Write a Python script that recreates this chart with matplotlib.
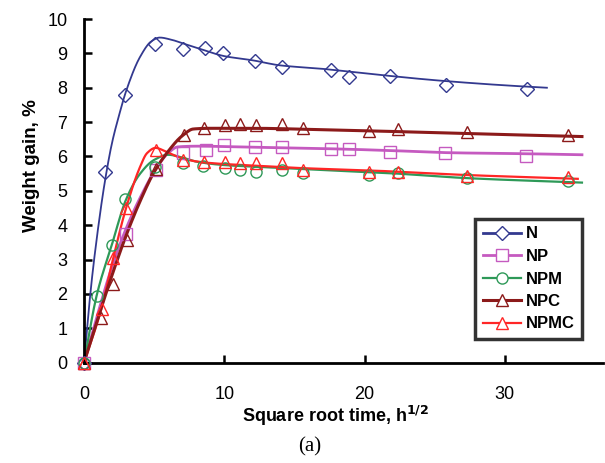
import numpy as np
import matplotlib
matplotlib.use("Agg")
import matplotlib.pyplot as plt
from matplotlib.lines import Line2D

# ---- measured points ----
N_x = [0, 1.5, 2.9, 5.05, 7.05, 8.65, 9.9, 12.2, 14.15, 17.6, 18.9, 21.85, 25.8, 31.55]
N_y = [0, 5.55, 7.78, 9.28, 9.12, 9.15, 9.02, 8.79, 8.6, 8.52, 8.32, 8.35, 8.08, 7.95]

NP_x = [0, 3.0, 5.15, 7.07, 8.68, 9.96, 12.22, 14.1, 17.58, 18.9, 21.85, 25.77, 31.5]
NP_y = [0, 3.75, 5.6, 6.1, 6.19, 6.33, 6.27, 6.27, 6.21, 6.21, 6.14, 6.11, 6.02]

NPM_x = [0, 0.9, 2.02, 2.92, 5.05, 7.07, 8.5, 10.04, 11.15, 12.24, 14.1, 15.6, 20.3, 22.4, 27.3, 34.5]
NPM_y = [0, 1.95, 3.42, 4.75, 5.7, 5.8, 5.72, 5.66, 5.62, 5.55, 5.62, 5.51, 5.45, 5.52, 5.37, 5.3]

NPC_x = [0, 1.2, 2.1, 3.05, 5.15, 7.1, 8.56, 10.04, 11.15, 12.24, 14.1, 15.6, 20.3, 22.4, 27.3, 34.5]
NPC_y = [0, 1.3, 2.3, 3.57, 5.63, 6.62, 6.82, 6.92, 6.95, 6.92, 6.95, 6.82, 6.74, 6.8, 6.72, 6.62]

NPMC_x = [0, 1.26, 2.09, 2.97, 5.12, 7.07, 8.56, 10.04, 11.15, 12.24, 14.1, 15.6, 20.3, 22.4, 27.3, 34.5]
NPMC_y = [0, 1.57, 3.04, 4.49, 6.19, 5.9, 5.85, 5.83, 5.82, 5.8, 5.82, 5.62, 5.54, 5.56, 5.43, 5.41]

# ---- fitted trend curves (knots) ----
N_fx = [0, 0.5, 1, 1.5, 2, 2.5, 3, 4, 4.8, 5.4, 6.2, 7.2, 8.5, 10, 12, 14, 17, 20, 25, 30, 33]
N_fy = [0, 2.2, 3.9, 5.3, 6.4, 7.2, 7.9, 8.9, 9.35, 9.46, 9.4, 9.27, 9.1, 8.92, 8.8, 8.65, 8.55, 8.42, 8.22, 8.07, 8.0]

NP_fx = [0, 1, 2, 3, 4, 5, 6, 6.7, 8, 12, 18, 22, 26, 31.5, 35.5]
NP_fy = [0, 1.45, 2.8, 3.9, 4.8, 5.55, 6.1, 6.28, 6.3, 6.27, 6.22, 6.17, 6.11, 6.08, 6.05]

NPM_fx = [0, 0.9, 2, 3, 4, 5, 6, 7, 8, 10, 12.3, 14.2, 19.6, 22, 27.3, 35.5]
NPM_fy = [0, 1.95, 3.45, 4.75, 5.5, 5.9, 6.05, 5.97, 5.85, 5.75, 5.7, 5.66, 5.56, 5.51, 5.37, 5.24]

NPC_fx = [0, 1, 2, 3, 4, 5, 6, 7, 7.8, 9, 12, 16, 20, 27, 35.5]
NPC_fy = [0, 1.3, 2.55, 3.7, 4.7, 5.55, 6.15, 6.6, 6.8, 6.82, 6.82, 6.79, 6.75, 6.67, 6.58]

NPMC_fx = [0, 1.26, 2, 3, 4, 4.5, 5.1, 5.8, 6.5, 7.2, 8.5, 10, 12, 15.6, 20, 27.3, 35.2]
NPMC_fy = [0, 1.6, 2.9, 4.5, 5.7, 6.1, 6.25, 6.15, 6.02, 5.92, 5.83, 5.78, 5.74, 5.66, 5.6, 5.46, 5.35]

labels = ["N", "NP", "NPM", "NPC", "NPMC"]
colors = ["#33398F", "#C55AC0", "#2E9958", "#8C1A1A", "#FF2626"]
markers = ["D", "s", "o", "^", "^"]
msizes = [7, 8, 8, 9, 9]
lws = [1.3, 2.0, 1.6, 2.2, 1.6]


def pchip(x, y, xn):
    x = np.asarray(x, float); y = np.asarray(y, float)
    h = np.diff(x); d = np.diff(y) / h
    m = np.zeros_like(y)
    for k in range(1, len(x) - 1):
        if d[k - 1] * d[k] > 0:
            w1 = 2 * h[k] + h[k - 1]; w2 = h[k] + 2 * h[k - 1]
            m[k] = (w1 + w2) / (w1 / d[k - 1] + w2 / d[k])
    m[0] = d[0]; m[-1] = d[-1]
    idx = np.clip(np.searchsorted(x, xn) - 1, 0, len(x) - 2)
    t = (xn - x[idx]) / h[idx]
    h00 = 2 * t**3 - 3 * t**2 + 1; h10 = t**3 - 2 * t**2 + t
    h01 = -2 * t**3 + 3 * t**2; h11 = t**3 - t**2
    return h00 * y[idx] + h10 * h[idx] * m[idx] + h01 * y[idx + 1] + h11 * h[idx] * m[idx + 1]


pts = [(N_x, N_y), (NP_x, NP_y), (NPM_x, NPM_y), (NPC_x, NPC_y), (NPMC_x, NPMC_y)]
fits = [(N_fx, N_fy), (NP_fx, NP_fy), (NPM_fx, NPM_fy), (NPC_fx, NPC_fy), (NPMC_fx, NPMC_fy)]

plt.rcParams['font.family'] = ['Liberation Sans', 'DejaVu Sans']

fig = plt.figure(figsize=(6.05, 4.63), dpi=100)
ax = fig.add_axes([84 / 605, 1 - 362.7 / 463, (603 - 84) / 605, (362.7 - 19) / 463])

handles = []
draw_order = [0, 1, 2, 4, 3]
for i in draw_order:
    fx, fy = fits[i]
    xs = np.linspace(fx[0], fx[-1], 400)
    ax.plot(xs, pchip(fx, fy, xs), color=colors[i], lw=lws[i], zorder=2)
for i in range(5):
    px, py = pts[i]
    ax.plot(px, py, linestyle='none', marker=markers[i], ms=msizes[i],
            mfc='none', mec=colors[i], mew=1.0, clip_on=False, zorder=3)
    handles.append(Line2D([], [], color=colors[i], lw=lws[i] if i != 0 else 2.0,
                          marker=markers[i], ms=msizes[i], mfc='white',
                          mec=colors[i], mew=1.0))

ax.set_xlim(0, 37)
ax.set_ylim(0, 10)
ax.set_xticks([0, 10, 20, 30])
ax.set_yticks(range(0, 11))
ax.spines['top'].set_visible(False)
ax.spines['right'].set_visible(False)
for s in ['left', 'bottom']:
    ax.spines[s].set_linewidth(2.0)
ax.tick_params(axis='both', direction='in', length=6, width=1.8, labelsize=13)
ax.tick_params(axis='x', pad=17)
ax.tick_params(axis='y', pad=12)

fig.text(32 / 605, 1 - 166 / 463, "Weight gain, %", rotation=90, fontsize=13.5,
         fontweight='bold', ha='center', va='center')
fig.text(335 / 605, 1 - 416 / 463, r"Square root time, h$^{\mathbf{1/2}}$", fontsize=13,
         fontweight='bold', ha='center', va='center')
fig.text(310 / 605, 1 - 447 / 463, "(a)", fontsize=15, family='Liberation Serif',
         ha='center', va='center')

leg = ax.legend(handles, labels, loc='upper left',
                bbox_to_anchor=((475 - 84) / 519, (362.7 - 219) / 343.7),
                prop={'weight': 'bold', 'size': 12}, frameon=True, fancybox=False,
                handlelength=2.3, handletextpad=0.3, labelspacing=0.45,
                borderpad=0.45, borderaxespad=0.0)
leg.get_frame().set_edgecolor('black')
leg.get_frame().set_linewidth(2.5)

fig.savefig("out.png", dpi=100)
